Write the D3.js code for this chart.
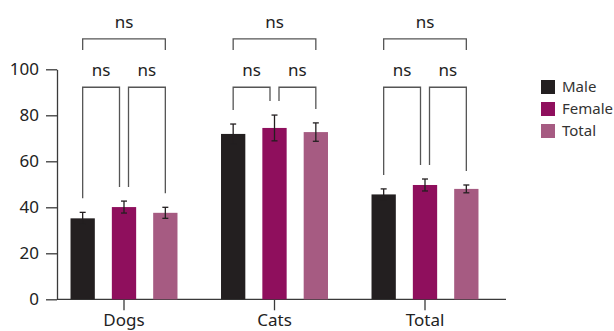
<!DOCTYPE html>
<html>
<head>
<meta charset="utf-8">
<script src="https://cdn.jsdelivr.net/npm/d3@7/dist/d3.min.js"></script>
<style>
  html, body { margin: 0; padding: 0; background: #fff; }
  svg { display: block; font-family: "Noto Sans", "Open Sans", sans-serif; }
</style>
</head>
<body>
<svg id="chart" width="614" height="331"></svg>
<script>
// Groups on the x axis and the three series within each group
const categories = ["Dogs", "Cats", "Total"];
const seriesNames = ["Male", "Female", "Total"];

// Mean values (%) and error-bar half-widths per group
const maleValues   = [35.2, 71.9, 45.6];
const maleErrors   = [2.6, 4.3, 2.4];
const femaleValues = [40.1, 74.5, 49.7];
const femaleErrors = [2.6, 5.6, 2.6];
const totalValues  = [37.6, 72.7, 48.0];
const totalErrors  = [2.4, 4.0, 1.7];

const yTicks = [0, 20, 40, 60, 80, 100];

// Significance labels: [first series index, second series index, label]
const comparisons = [[0, 1, "ns"], [1, 2, "ns"], [0, 2, "ns"]];

const colors = ["#231f20", "#8f0f5d", "#a65b82"];

const seriesValues = [maleValues, femaleValues, totalValues];
const seriesErrors = [maleErrors, femaleErrors, totalErrors];

const svg = d3.select("#chart");
const axisColor = "#3a3a3a";
const bracketColor = "#555";

const y = d3.scaleLinear().domain([0, 100]).range([299.3, 69.3]);

const x0 = d3.scaleBand().domain(categories).range([48.75, 500.25]).padding(0);
const half = x0.bandwidth() / 2;
const x1 = d3.scaleBand().domain(d3.range(seriesNames.length))
  .range([-62, 62]).paddingInner(0.412).paddingOuter(0.206);
const barCenter = (ci, si) => x0(categories[ci]) + half + x1(si) + x1.bandwidth() / 2;

// Y axis
const yAxis = svg.append("g")
  .attr("transform", "translate(57,0)")
  .call(d3.axisLeft(y).tickValues(yTicks).tickSize(11).tickSizeOuter(0).tickPadding(7));
yAxis.select(".domain").attr("stroke", axisColor).attr("stroke-width", 1.3);
yAxis.selectAll(".tick line").attr("stroke", axisColor).attr("stroke-width", 1.3);
yAxis.selectAll(".tick text").attr("fill", "#222").style("font-size", "17px")
  .style("font-family", "'Noto Sans', sans-serif");

// X axis
const xAxis = svg.append("g")
  .attr("transform", `translate(0,${y(0)})`)
  .call(d3.axisBottom(x0).tickSize(11).tickSizeOuter(0).tickPadding(4));
xAxis.select(".domain").remove();
xAxis.append("line").attr("x1", 57).attr("x2", 506).attr("y1", 0).attr("y2", 0)
  .attr("stroke", axisColor).attr("stroke-width", 1.3);
xAxis.selectAll(".tick line").attr("stroke", axisColor).attr("stroke-width", 1.3);
xAxis.selectAll(".tick text").attr("fill", "#222").style("font-size", "17px")
  .style("font-family", "'Noto Sans', sans-serif");

// Bars and error bars
const plot = svg.append("g");
categories.forEach((c, ci) => {
  seriesNames.forEach((s, si) => {
    const v = seriesValues[si][ci];
    const e = seriesErrors[si][ci];
    const cx = barCenter(ci, si);
    plot.append("rect")
      .attr("x", x0(c) + half + x1(si))
      .attr("width", x1.bandwidth())
      .attr("y", y(v))
      .attr("height", y(0) - y(v))
      .attr("fill", colors[si]);
    const eb = plot.append("g").attr("stroke", "#231f20").attr("stroke-width", 1.3);
    eb.append("line").attr("x1", cx).attr("x2", cx).attr("y1", y(v - e)).attr("y2", y(v + e));
    [v - e, v + e].forEach(t => {
      eb.append("line").attr("x1", cx - 3).attr("x2", cx + 3).attr("y1", y(t)).attr("y2", y(t));
    });
  });
});

// Significance brackets
const lowerLevel = 92.2, upperLevel = 113.2, legGap = 14, innerOffset = 4.5;
const br = svg.append("g");
categories.forEach((c, ci) => {
  const topOf = si => y(seriesValues[si][ci] + seriesErrors[si][ci]);
  comparisons.forEach(([a, b, label]) => {
    let xa = barCenter(ci, a), xb = barCenter(ci, b);
    let ya, yb, yl;
    if (b - a === 1) {
      yl = y(lowerLevel);
      if (a === 1) xa += innerOffset; else ya = topOf(a) - legGap;
      if (b === 1) xb -= innerOffset; else yb = topOf(b) - legGap;
      if (a === 1) ya = topOf(1) - legGap;
      if (b === 1) yb = topOf(1) - legGap;
    } else {
      yl = y(upperLevel);
      ya = yl + 11; yb = yl + 11;
    }
    br.append("path")
      .attr("d", `M${xa},${ya}V${yl}H${xb}V${yb}`)
      .attr("fill", "none").attr("stroke", bracketColor).attr("stroke-width", 1.3);
    br.append("text")
      .attr("x", (xa + xb) / 2).attr("y", yl - 11)
      .attr("text-anchor", "middle")
      .attr("fill", "#222").style("font-size", "17px")
      .text(label);
  });
});

// Legend
const legend = svg.append("g").attr("transform", "translate(541,80)");
seriesNames.forEach((s, i) => {
  const g = legend.append("g").attr("transform", `translate(0,${i * 22})`);
  g.append("rect").attr("width", 14).attr("height", 14).attr("fill", colors[i]);
  g.append("text").attr("x", 21).attr("y", 7).attr("dy", "0.36em")
    .attr("fill", "#333").style("font-size", "15px").text(s);
});
</script>
</body>
</html>
